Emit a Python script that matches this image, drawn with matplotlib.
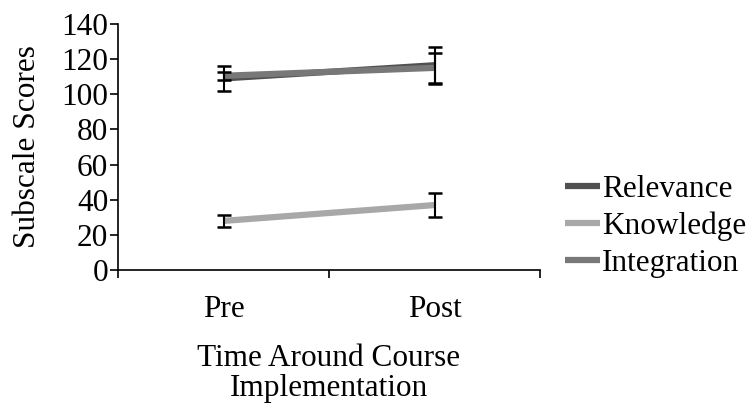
import matplotlib
matplotlib.use("Agg")
import matplotlib.pyplot as plt

times = ["Pre", "Post"]
series = ["Relevance", "Knowledge", "Integration"]
relevance = [109, 116.5]
relevance_err = [7, 10.5]
knowledge = [28, 37]
knowledge_err = [3.5, 7]
integration = [110.5, 115]
integration_err = [2.3, 8.5]
colors = ["#505050", "#a8a8a8", "#787878"]
yticks = [0, 20, 40, 60, 80, 100, 120, 140]

FS = 22.5
plt.rcParams['font.family'] = ['Liberation Serif', 'DejaVu Serif']
fig = plt.figure(figsize=(7.47, 4.05), dpi=100)
ax = fig.add_axes([0.158, 0.333, 0.565, 0.608])

xpos = [0.5, 1.5]
for name, vals, errs, c in zip(series, [relevance, knowledge, integration],
                               [relevance_err, knowledge_err, integration_err], colors):
    ax.plot(xpos, vals, color=c, lw=4.5, label=name, solid_capstyle='butt', zorder=2)
    ax.errorbar(xpos, vals, yerr=errs, fmt='none', ecolor='black', elinewidth=1.5,
                capsize=5, capthick=1.8, zorder=3)

ax.set_xlim(0, 2)
ax.set_ylim(0, 140)
ax.set_yticks(yticks)
ax.set_yticklabels([str(v) for v in yticks], fontsize=FS)
ax.set_xticks([0, 1, 2])
ax.set_xticklabels([])
ax.set_xticks(xpos, minor=True)
ax.set_xticklabels(times, minor=True, fontsize=FS)
ax.tick_params(axis='x', which='minor', length=0, pad=18)
ax.tick_params(axis='x', which='major', direction='out', length=6, width=1.2)
ax.tick_params(axis='y', direction='out', length=6, width=1.2, pad=1)
for s in ['top', 'right']:
    ax.spines[s].set_visible(False)
for s in ['left', 'bottom']:
    ax.spines[s].set_linewidth(1.2)
ax.set_ylabel("Subscale Scores", fontsize=FS, labelpad=14)
ax.set_xlabel("Time Around Course\nImplementation", fontsize=FS, labelpad=14, linespacing=1.05)

leg = ax.legend(loc='center left', bbox_to_anchor=(1.03, 0.178), frameon=False,
                fontsize=FS, handlelength=1.1, handletextpad=0.08, labelspacing=0.25,
                borderaxespad=0)
for l in leg.get_lines():
    l.set_linewidth(4.5)

fig.savefig("out.png", dpi=100)
